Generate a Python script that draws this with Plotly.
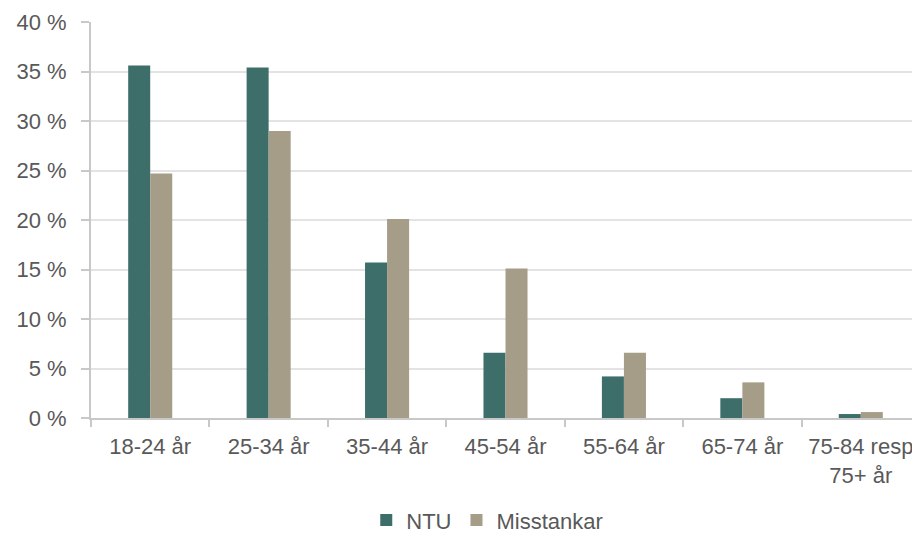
import plotly.graph_objects as go

categories = ["18-24 år", "25-34 år", "35-44 år", "45-54 år", "55-64 år", "65-74 år", "75-84 resp<br>75+ år"]
ntu = [35.6, 35.4, 15.7, 6.6, 4.2, 2.0, 0.4]
misstankar = [24.7, 29.0, 20.1, 15.1, 6.6, 3.6, 0.6]
y_ticks = [0, 5, 10, 15, 20, 25, 30, 35, 40]

fig = go.Figure()
fig.add_trace(go.Bar(x=categories, y=ntu, name="NTU", marker_color="#3D6E6A",
                     marker_line_width=0))
fig.add_trace(go.Bar(x=categories, y=misstankar, name="Misstankar", marker_color="#A59D88",
                     marker_line_width=0))

# page body has an 8px default margin, so the figure is offset by 8px
fig.update_layout(
    width=912, height=529,
    margin=dict(l=83, r=0, t=14, b=119, autoexpand=False),
    plot_bgcolor="white", paper_bgcolor="white",
    font=dict(family="Liberation Sans, Arial, sans-serif", size=22, color="#595959"),
    barmode="group", bargap=0.628, bargroupgap=0,
    showlegend=True,
    legend=dict(orientation="h", x=0.478, xanchor="center", y=-0.258, yanchor="middle",
                font=dict(size=22), itemwidth=30, tracegroupgap=0),
)
fig.update_xaxes(showline=True, linecolor="#c8c8c8", linewidth=2,
                 ticks="outside", ticklen=7, tickcolor="#c8c8c8", tickwidth=2,
                 tickson="boundaries", showgrid=False, ticklabelstandoff=8,
                 automargin=False)
fig.update_yaxes(range=[0, 40], tickvals=y_ticks, ticktext=[f"{v} %" for v in y_ticks],
                 showline=True, linecolor="#c8c8c8", linewidth=2,
                 ticks="outside", ticklen=8, tickcolor="#c8c8c8", tickwidth=2,
                 showgrid=True, gridcolor="#e3e3e3", gridwidth=2, zeroline=False,
                 ticklabelstandoff=10, automargin=False)

fig.write_html("out.html")
